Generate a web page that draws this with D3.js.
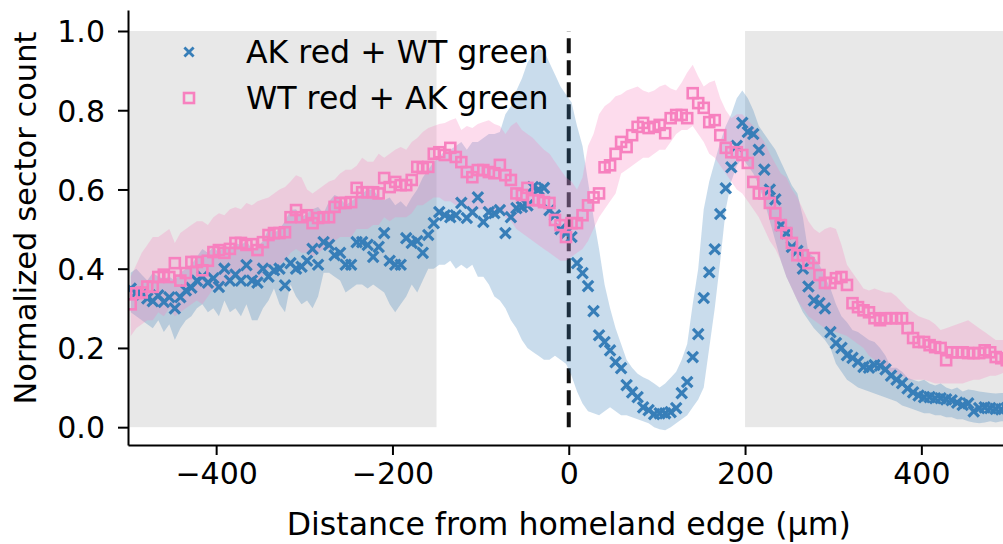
<!DOCTYPE html>
<html>
<head>
<meta charset="utf-8">
<script src="https://cdn.jsdelivr.net/npm/d3@7"></script>
<style>
  body { margin: 0; background: #fff; }
  svg { display: block; }
  text { font-family: "DejaVu Sans", sans-serif; fill: #000; }
</style>
</head>
<body>
<svg id="chart" width="1003" height="544"></svg>
<script>
// Bin centres (µm from the homeland edge): 160 bins of 6.25 µm
const binStart = -496.875;
const binWidth = 6.25;
const binCount = 160;

// AK red + WT green: mean normalized sector count and shaded spread
const akRedWtGreen = [
  0.350,0.340,0.335,0.325,0.318,0.333,0.316,0.328,0.300,0.328,
  0.345,0.352,0.370,0.380,0.365,0.376,0.354,0.400,0.370,0.385,
  0.370,0.409,0.370,0.365,0.400,0.380,0.396,0.400,0.358,0.414,
  0.400,0.405,0.420,0.450,0.410,0.467,0.460,0.434,0.440,0.410,
  0.410,0.467,0.467,0.460,0.430,0.455,0.490,0.420,0.410,0.410,
  0.477,0.465,0.470,0.440,0.485,0.515,0.543,0.535,0.530,0.535,
  0.566,0.528,0.543,0.580,0.518,0.543,0.540,0.548,0.490,0.530,
  0.553,0.556,0.560,0.606,0.600,0.604,0.548,0.535,0.500,0.490,
  0.480,0.414,0.389,0.356,0.293,0.232,0.215,0.194,0.164,0.149,
  0.106,0.088,0.076,0.050,0.043,0.033,0.035,0.035,0.038,0.048,
  0.086,0.114,0.177,0.235,0.326,0.391,0.449,0.538,0.603,0.656,
  0.710,0.768,0.745,0.740,0.700,0.650,0.600,0.575,0.510,0.490,
  0.455,0.445,0.400,0.355,0.320,0.313,0.300,0.240,0.212,0.200,
  0.182,0.175,0.165,0.152,0.150,0.157,0.155,0.146,0.130,0.120,
  0.111,0.098,0.088,0.080,0.076,0.076,0.073,0.073,0.070,0.068,
  0.062,0.056,0.060,0.040,0.048,0.050,0.048,0.046,0.045,0.048
];
const akRedWtGreenHigh = [
  0.39,0.40,0.385,0.37,0.39,0.38,0.375,0.38,0.37,0.39,
  0.40,0.41,0.43,0.45,0.44,0.455,0.44,0.46,0.45,0.465,
  0.46,0.47,0.45,0.455,0.47,0.50,0.49,0.50,0.52,0.548,
  0.55,0.53,0.54,0.55,0.556,0.54,0.57,0.586,0.58,0.56,
  0.57,0.58,0.59,0.60,0.60,0.58,0.573,0.58,0.56,0.57,
  0.556,0.58,0.60,0.63,0.65,0.67,0.68,0.70,0.70,0.71,
  0.72,0.70,0.72,0.72,0.73,0.74,0.74,0.745,0.79,0.81,
  0.85,0.88,0.92,0.94,0.955,0.95,0.92,0.89,0.86,0.84,
  0.82,0.76,0.71,0.62,0.53,0.45,0.36,0.30,0.25,0.21,
  0.17,0.15,0.135,0.126,0.12,0.11,0.10,0.11,0.125,0.14,
  0.17,0.21,0.31,0.40,0.55,0.62,0.67,0.72,0.76,0.79,
  0.83,0.85,0.83,0.80,0.76,0.74,0.72,0.70,0.67,0.64,
  0.61,0.59,0.53,0.44,0.43,0.41,0.38,0.35,0.31,0.28,
  0.265,0.245,0.24,0.23,0.22,0.215,0.20,0.18,0.15,0.15,
  0.14,0.125,0.12,0.115,0.12,0.11,0.105,0.11,0.10,0.095,
  0.10,0.09,0.095,0.093,0.09,0.088,0.086,0.085,0.086,0.086
];
const akRedWtGreenLow = [
  0.29,0.28,0.27,0.26,0.25,0.27,0.24,0.26,0.22,0.25,
  0.27,0.28,0.30,0.31,0.29,0.30,0.28,0.32,0.29,0.30,
  0.28,0.31,0.27,0.27,0.30,0.32,0.35,0.31,0.29,0.36,
  0.33,0.31,0.32,0.30,0.33,0.39,0.39,0.38,0.37,0.34,
  0.35,0.36,0.36,0.35,0.36,0.35,0.34,0.31,0.29,0.31,
  0.33,0.36,0.34,0.37,0.40,0.40,0.41,0.41,0.42,0.40,
  0.41,0.40,0.41,0.38,0.38,0.36,0.33,0.32,0.30,0.27,
  0.25,0.22,0.20,0.19,0.18,0.17,0.17,0.18,0.17,0.16,
  0.13,0.09,0.06,0.04,0.035,0.03,0.04,0.05,0.04,0.03,
  0.03,0.025,0.02,0.015,0.01,0.0,-0.005,-0.008,0.0,0.01,
  0.02,0.03,0.05,0.07,0.10,0.20,0.30,0.42,0.55,0.62,
  0.66,0.68,0.66,0.64,0.61,0.57,0.52,0.47,0.42,0.38,
  0.35,0.32,0.29,0.27,0.25,0.235,0.22,0.20,0.16,0.14,
  0.12,0.11,0.10,0.095,0.09,0.085,0.08,0.075,0.07,0.065,
  0.055,0.05,0.045,0.04,0.035,0.035,0.03,0.03,0.025,0.025,
  0.02,0.02,0.015,0.012,0.01,0.012,0.015,0.012,0.015,0.015
];

// WT red + AK green: mean normalized sector count and shaded spread
const wtRedAkGreen = [
  0.310,0.338,0.340,0.355,0.354,0.379,0.385,0.379,0.414,0.370,
  0.389,0.417,0.417,0.396,0.420,0.442,0.447,0.440,0.450,0.465,
  0.465,0.460,0.462,0.447,0.467,0.485,0.490,0.490,0.492,0.530,
  0.548,0.530,0.535,0.515,0.528,0.530,0.530,0.556,0.566,0.566,
  0.568,0.604,0.593,0.593,0.593,0.590,0.629,0.606,0.619,0.611,
  0.611,0.624,0.657,0.654,0.657,0.690,0.694,0.687,0.705,0.682,
  0.669,0.644,0.631,0.649,0.649,0.644,0.641,0.662,0.636,0.624,
  0.590,0.586,0.604,0.573,0.573,0.568,0.566,0.523,0.510,0.480,
  0.515,0.515,0.535,0.560,0.580,0.590,0.656,0.661,0.690,0.720,
  0.707,0.737,0.758,0.768,0.755,0.758,0.763,0.742,0.780,0.788,
  0.788,0.780,0.843,0.818,0.806,0.770,0.775,0.737,0.705,0.694,
  0.694,0.687,0.667,0.619,0.590,0.590,0.566,0.540,0.510,0.490,
  0.465,0.434,0.434,0.414,0.427,0.384,0.364,0.364,0.376,0.379,
  0.359,0.313,0.303,0.295,0.290,0.275,0.270,0.275,0.275,0.275,
  0.275,0.250,0.225,0.215,0.215,0.207,0.202,0.200,0.169,0.189,
  0.189,0.189,0.187,0.187,0.187,0.194,0.189,0.177,0.174,0.169
];
const wtRedAkGreenHigh = [
  0.38,0.41,0.44,0.46,0.48,0.48,0.49,0.50,0.465,0.49,
  0.50,0.51,0.52,0.52,0.51,0.53,0.54,0.535,0.55,0.555,
  0.55,0.566,0.56,0.57,0.575,0.58,0.59,0.60,0.606,0.62,
  0.636,0.63,0.60,0.59,0.60,0.61,0.62,0.625,0.64,0.65,
  0.65,0.66,0.68,0.67,0.67,0.69,0.68,0.69,0.70,0.707,
  0.70,0.72,0.73,0.745,0.755,0.76,0.765,0.768,0.775,0.78,
  0.75,0.76,0.755,0.765,0.77,0.775,0.765,0.76,0.74,0.76,
  0.77,0.75,0.74,0.73,0.715,0.70,0.69,0.67,0.65,0.63,
  0.62,0.60,0.63,0.71,0.74,0.79,0.81,0.82,0.835,0.84,
  0.85,0.855,0.86,0.85,0.845,0.85,0.86,0.865,0.855,0.85,
  0.87,0.895,0.915,0.885,0.86,0.87,0.875,0.83,0.80,0.78,
  0.79,0.79,0.775,0.76,0.74,0.72,0.69,0.665,0.64,0.63,
  0.60,0.58,0.55,0.52,0.50,0.49,0.50,0.505,0.50,0.46,
  0.41,0.39,0.37,0.35,0.345,0.35,0.345,0.34,0.34,0.33,
  0.315,0.30,0.29,0.28,0.275,0.27,0.26,0.245,0.25,0.255,
  0.26,0.265,0.27,0.26,0.25,0.24,0.23,0.22,0.22,0.22
];
const wtRedAkGreenLow = [
  0.23,0.25,0.26,0.27,0.27,0.29,0.28,0.30,0.28,0.29,
  0.30,0.31,0.32,0.31,0.33,0.35,0.35,0.36,0.37,0.38,
  0.38,0.38,0.37,0.37,0.38,0.40,0.41,0.41,0.42,0.44,
  0.45,0.44,0.44,0.43,0.44,0.45,0.45,0.47,0.48,0.48,
  0.48,0.50,0.50,0.50,0.51,0.51,0.53,0.52,0.53,0.53,
  0.53,0.54,0.56,0.56,0.57,0.58,0.58,0.57,0.57,0.56,
  0.56,0.55,0.54,0.55,0.55,0.54,0.54,0.55,0.53,0.52,
  0.50,0.49,0.48,0.47,0.46,0.45,0.44,0.43,0.42,0.42,
  0.43,0.44,0.45,0.47,0.50,0.53,0.55,0.57,0.59,0.64,
  0.65,0.66,0.67,0.68,0.68,0.69,0.70,0.70,0.72,0.74,
  0.75,0.75,0.76,0.74,0.72,0.69,0.68,0.66,0.64,0.62,
  0.60,0.59,0.57,0.55,0.53,0.50,0.47,0.45,0.42,0.38,
  0.35,0.32,0.30,0.28,0.27,0.26,0.25,0.245,0.24,0.235,
  0.23,0.22,0.21,0.20,0.18,0.17,0.16,0.15,0.14,0.135,
  0.13,0.12,0.12,0.12,0.12,0.115,0.11,0.11,0.11,0.11,
  0.11,0.11,0.115,0.12,0.12,0.125,0.13,0.13,0.135,0.14
];

// Outside-homeland zones shaded grey, axis ticks, labels
const shadedZones = [[-500, -150], [200, 500]];
const xTicks = [-400, -200, 0, 200, 400];
const yTicks = [0, 0.2, 0.4, 0.6, 0.8, 1.0];
const seriesNames = ["AK red + WT green", "WT red + AK green"];
const seriesColors = ["#377eb8", "#f781bf"];

const distances = d3.range(binCount).map(i => binStart + i * binWidth);

const svg = d3.select("#chart");
const plot = { left: 128, right: 1009.5, top: 10, bottom: 445 };

const x = d3.scaleLinear().domain([-500, 500]).range([plot.left, plot.right]);
const y = d3.scaleLinear().domain([-0.045, 1.053]).range([plot.bottom, plot.top]);

svg.append("defs").append("clipPath").attr("id", "plot-clip")
  .append("rect")
  .attr("x", plot.left).attr("y", plot.top)
  .attr("width", plot.right - plot.left).attr("height", plot.bottom - plot.top);

const body = svg.append("g").attr("clip-path", "url(#plot-clip)");

// grey zones
body.selectAll("rect.zone").data(shadedZones).join("rect")
  .attr("class", "zone")
  .attr("x", d => x(d[0]))
  .attr("width", d => x(d[1]) - x(d[0]))
  .attr("y", y(1))
  .attr("height", y(0) - y(1))
  .attr("fill", "#e8e8e8");

// homeland edge
body.append("line")
  .attr("x1", x(0)).attr("x2", x(0))
  .attr("y1", y(0)).attr("y2", y(1))
  .attr("stroke", "#111")
  .attr("stroke-width", 4)
  .attr("stroke-dasharray", "15,7");

const rows = (mean, lo, hi) => distances.map((d, i) => ({ d, m: mean[i], lo: lo[i], hi: hi[i] }));
const akRows = rows(akRedWtGreen, akRedWtGreenLow, akRedWtGreenHigh);
const wtRows = rows(wtRedAkGreen, wtRedAkGreenLow, wtRedAkGreenHigh);

const band = d3.area()
  .x(r => x(r.d))
  .y0(r => y(r.lo))
  .y1(r => y(r.hi));

body.append("path").datum(akRows)
  .attr("d", band).attr("fill", seriesColors[0]).attr("fill-opacity", 0.27);
body.append("path").datum(wtRows)
  .attr("d", band).attr("fill", seriesColors[1]).attr("fill-opacity", 0.28);

// markers
const crossPath = "M-5.2,-5.2L5.2,5.2M-5.2,5.2L5.2,-5.2";
body.append("g").selectAll("path").data(akRows).join("path")
  .attr("transform", r => `translate(${x(r.d)},${y(r.m)})`)
  .attr("d", crossPath)
  .attr("fill", "none")
  .attr("stroke", seriesColors[0])
  .attr("stroke-width", 3.2);

const sq = 10;
body.append("g").selectAll("rect").data(wtRows).join("rect")
  .attr("x", r => x(r.d) - sq / 2)
  .attr("y", r => y(r.m) - sq / 2)
  .attr("width", sq).attr("height", sq)
  .attr("fill", "none")
  .attr("stroke", seriesColors[1])
  .attr("stroke-width", 2.6);

// axes
const fmtY = d3.format(".1f");
const gy = svg.append("g")
  .attr("transform", `translate(${plot.left},0)`)
  .call(d3.axisLeft(y).tickValues(yTicks).tickFormat(fmtY)
    .tickSize(10).tickSizeOuter(0).tickPadding(13));
const gx = svg.append("g")
  .attr("transform", `translate(0,${plot.bottom})`)
  .call(d3.axisBottom(x).tickValues(xTicks)
    .tickSize(10).tickSizeOuter(0).tickPadding(8));

[gx, gy].forEach(g => {
  g.attr("font-family", null).attr("font-size", null);
  g.select(".domain").attr("stroke", "#000").attr("stroke-width", 2);
  g.selectAll(".tick line").attr("stroke", "#000").attr("stroke-width", 2);
  g.selectAll(".tick text").style("font-size", "30px").attr("fill", "#000");
});
gy.selectAll(".tick text").attr("dy", "0.36em");

svg.append("text")
  .attr("x", (plot.left + plot.right) / 2)
  .attr("y", 535)
  .attr("text-anchor", "middle")
  .style("font-size", "31.6px")
  .text("Distance from homeland edge (µm)");

svg.append("text")
  .attr("transform", "translate(36,218) rotate(-90)")
  .attr("text-anchor", "middle")
  .style("font-size", "30.5px")
  .text("Normalized sector count");

// legend
const legend = svg.append("g");
const legendRows = [0, 1].map(k => ({ name: seriesNames[k], color: seriesColors[k], cy: 52 + k * 46 }));
legend.selectAll("path.key").data(legendRows.slice(0, 1)).join("path")
  .attr("class", "key")
  .attr("transform", r => `translate(189,${r.cy})`)
  .attr("d", "M-4.6,-4.6L4.6,4.6M-4.6,4.6L4.6,-4.6")
  .attr("fill", "none").attr("stroke", r => r.color).attr("stroke-width", 2.8);
legend.selectAll("rect.key").data(legendRows.slice(1)).join("rect")
  .attr("class", "key")
  .attr("x", 189 - 5).attr("y", r => r.cy - 5)
  .attr("width", 10).attr("height", 10)
  .attr("fill", "none").attr("stroke", r => r.color).attr("stroke-width", 2.6);
legend.selectAll("text").data(legendRows).join("text")
  .attr("x", 246)
  .attr("y", r => r.cy + 11)
  .style("font-size", "31.6px")
  .text(r => r.name);
</script>
</body>
</html>
